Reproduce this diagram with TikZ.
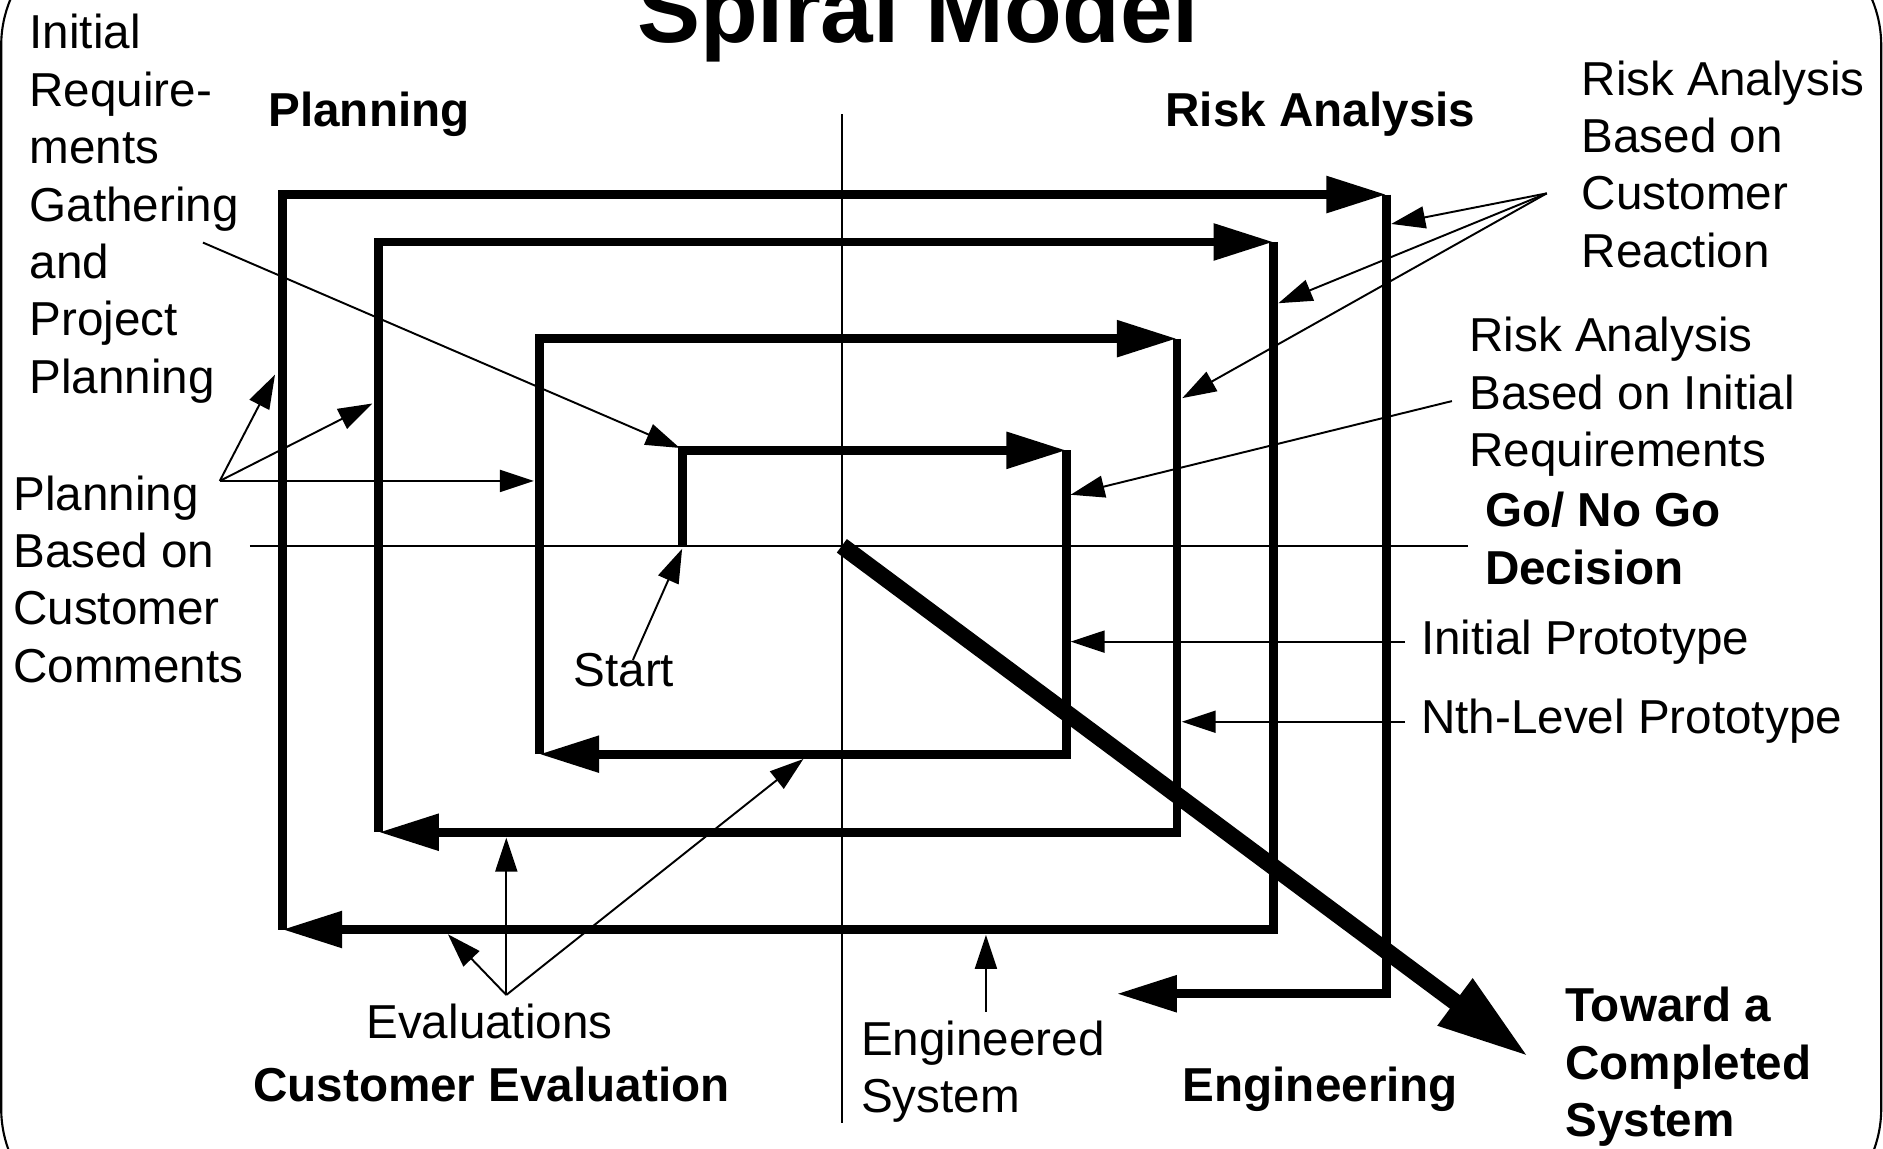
\documentclass[tikz,border=0pt]{standalone}
\usepackage{fontspec}
\setmainfont{Liberation Sans}
\usetikzlibrary{arrows.meta}
\begin{document}
\begin{tikzpicture}[x=0.012009cm,y=-0.012009cm,
  lbl/.style={anchor=base west,inner sep=0pt,align=left,font=\fontsize{13.55pt}{16.33pt}\selectfont},
  blbl/.style={anchor=base west,inner sep=0pt,align=left,font=\fontsize{13.55pt}{16.33pt}\selectfont\bfseries},
  spiral/.style={line width=2.5pt,line join=miter,-{Triangle[length=0.6cm,width=0.35cm]}},
  thinarrow/.style={line width=0.55pt,-{Triangle[length=0.34cm,width=0.22cm]}},
  axisline/.style={line width=0.6pt},
  bigarrow/.style={line width=4.8pt,-{Triangle[length=0.92cm,width=0.54cm]}},
  frame/.style={line width=0.6pt,rounded corners=1.2cm}]
\useasboundingbox (0,0) rectangle (1568,956);
\clip (0,0) rectangle (1568,956);
% frame
\draw[frame] (1,-62) rectangle (1566.5,1023);
% title
\node[anchor=base,inner sep=0pt,font=\fontsize{26.9pt}{30pt}\selectfont\bfseries] (title) at (764.5,35.5) {Spiral Model};
% axes
\coordinate (vtop) at (701,95);
\coordinate (vbot) at (701,935.3);
\coordinate (hl) at (208,454.5);
\coordinate (hr) at (1222,454.5);
\coordinate (o) at (701,454.5);
\draw[axisline] (vtop) -- (vbot);
\draw[axisline] (hl) -- (hr);
% spiral corners
\coordinate (s0) at (568,455);
\coordinate (a1) at (568,375);  \coordinate (b1) at (888,375);
\coordinate (a2) at (888,628);  \coordinate (b2) at (449,628);
\coordinate (a3) at (449,282);  \coordinate (b3) at (980,282);
\coordinate (a4) at (980,693);  \coordinate (b4) at (315.5,693);
\coordinate (a5) at (315.5,201.5); \coordinate (b5) at (1060.5,201.5);
\coordinate (a6) at (1060.5,774); \coordinate (b6) at (235,774);
\coordinate (a7) at (235,162);  \coordinate (b7) at (1154.5,162);
\coordinate (a8) at (1154.5,827.5); \coordinate (b8) at (930,827.5);
\draw[spiral] (s0) -- (a1) -- (b1);
\draw[spiral] (b1) -- (a2) -- (b2);
\draw[spiral] (b2) -- (a3) -- (b3);
\draw[spiral] (b3) -- (a4) -- (b4);
\draw[spiral] (b4) -- (a5) -- (b5);
\draw[spiral] (b5) -- (a6) -- (b6);
\draw[spiral] (b6) -- (a7) -- (b7);
\draw[spiral] (b7) -- (a8) -- (b8);
% diagonal
\coordinate (dtip) at (1273,880);
\draw[bigarrow] (o) -- (dtip);
% labels (multi-line nodes: base = last line)
\node[lbl] (irq) at (24,327.5) {Initial\\Require-\\ments\\Gathering\\and\\Project\\Planning};
\node[blbl] (plan) at (223,105.5) {Planning};
\node[blbl] (risk) at (970,105.5) {Risk Analysis};
\node[lbl] (rc) at (1316.5,222.5) {Risk Analysis\\Based on\\Customer\\Reaction};
\node[lbl] (ri) at (1223,388.4) {Risk Analysis\\Based on Initial\\Requirements};
\node[blbl] (go) at (1236,486.4) {Go/ No Go\\Decision};
\node[lbl] (ip) at (1182.8,545.4) {Initial Prototype};
\node[lbl] (nl) at (1182.8,611.2) {Nth-Level Prototype};
\node[lbl] (pb) at (10.5,568.1) {Planning\\Based on\\Customer\\Comments};
\node[lbl] (start) at (477,571.8) {Start};
\node[lbl] (ev) at (304.5,864.6) {Evaluations};
\node[blbl] (ce) at (210.3,917.4) {Customer Evaluation};
\node[lbl] (es) at (716.5,926.3) {Engineered\\System};
\node[blbl] (eng) at (984.3,917.4) {Engineering};
\node[blbl] (tw) at (1302.9,946.4) {Toward a\\Completed\\System};
% annotation arrows
\coordinate (irqO) at (169,202);   \coordinate (irqT) at (566,373);
\coordinate (pbO) at (183,400.5);
\coordinate (pbT1) at (229,312);  \coordinate (pbT2) at (310,336);  \coordinate (pbT3) at (444.6,400.5);
\coordinate (rcO) at (1288,161);
\coordinate (rcT1) at (1158.5,186.5); \coordinate (rcT2) at (1064.5,252.5); \coordinate (rcT3) at (984.5,331.5);
\coordinate (riO) at (1209,334);  \coordinate (riT) at (891.5,412);
\coordinate (ipO) at (1170,534.3); \coordinate (ipT) at (891.5,534.3);
\coordinate (nlO) at (1170,601);  \coordinate (nlT) at (984,601);
\coordinate (stO) at (527,549.6); \coordinate (stT) at (568,457);
\coordinate (evO) at (421.6,828.5);
\coordinate (evT1) at (421.6,697.5); \coordinate (evT2) at (373,778); \coordinate (evT3) at (669,632);
\coordinate (esO) at (821,842.5); \coordinate (esT) at (821,778.5);
\draw[thinarrow] (irqO) -- (irqT);
\draw[thinarrow] (pbO) -- (pbT1);
\draw[thinarrow] (pbO) -- (pbT2);
\draw[thinarrow] (pbO) -- (pbT3);
\draw[thinarrow] (rcO) -- (rcT1);
\draw[thinarrow] (rcO) -- (rcT2);
\draw[thinarrow] (rcO) -- (rcT3);
\draw[thinarrow] (riO) -- (riT);
\draw[thinarrow] (ipO) -- (ipT);
\draw[thinarrow] (nlO) -- (nlT);
\draw[thinarrow] (stO) -- (stT);
\draw[thinarrow] (evO) -- (evT1);
\draw[thinarrow] (evO) -- (evT2);
\draw[thinarrow] (evO) -- (evT3);
\draw[thinarrow] (esO) -- (esT);
\end{tikzpicture}
\end{document}
